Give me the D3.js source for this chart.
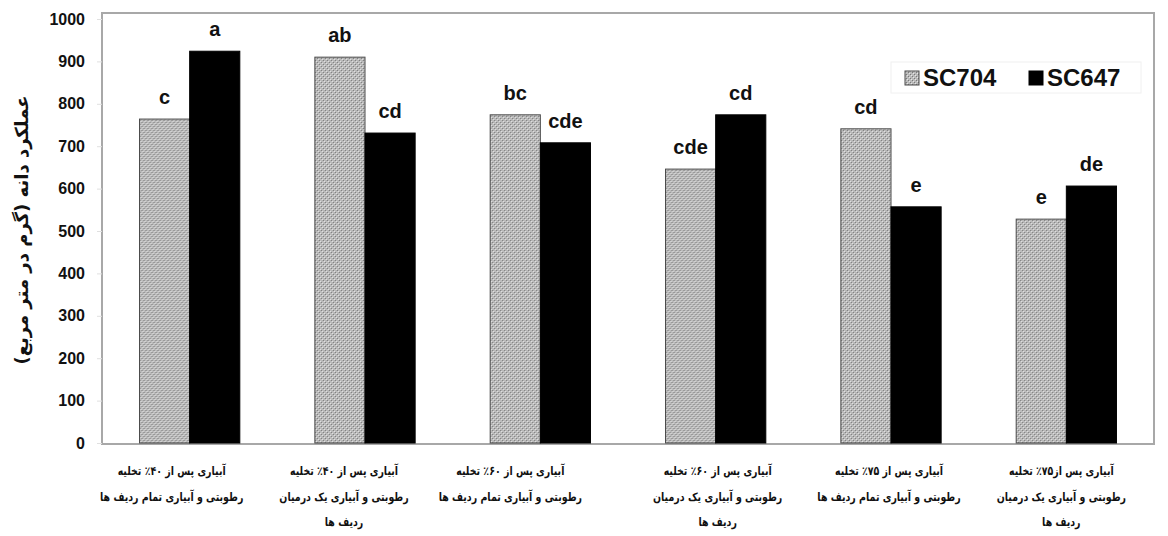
<!DOCTYPE html>
<html>
<head>
<meta charset="utf-8">
<script src="https://cdn.jsdelivr.net/npm/d3@7"></script>
<style>
  html, body { margin: 0; padding: 0; background: #fff; }
  svg { display: block; }
</style>
</head>
<body>
<svg id="chart" width="1168" height="536"></svg>
<script>
// Grain yield by irrigation treatment for two maize hybrids
const categories = [
  ["آبیاری پس از ۴۰٪ تخلیه", "رطوبتی و آبیاری تمام ردیف ها"],
  ["آبیاری پس از ۴۰٪ تخلیه", "رطوبتی و آبیاری یک درمیان", "ردیف ها"],
  ["آبیاری پس از ۶۰٪ تخلیه", "رطوبتی و آبیاری تمام ردیف ها"],
  ["آبیاری پس از ۶۰٪ تخلیه", "رطوبتی و آبیاری یک درمیان", "ردیف ها"],
  ["آبیاری پس از ۷۵٪ تخلیه", "رطوبتی و آبیاری تمام ردیف ها"],
  ["آبیاری پس از۷۵٪ تخلیه", "رطوبتی و آبیاری یک درمیان", "ردیف ها"]
];
const seriesNames = ["SC704", "SC647"];
const sc704 = [764, 910, 774, 646, 741, 528];
const sc647 = [924, 731, 708, 774, 557, 606];
const sc704Letters = ["c", "ab", "bc", "cde", "cd", "e"];
const sc647Letters = ["a", "cd", "cde", "cd", "e", "de"];
const yTicks = [0, 100, 200, 300, 400, 500, 600, 700, 800, 900, 1000];
const yTitle = "عملکرد دانه  (گرم در متر مربع)";

// horizontal nudge of each category caption
const captionShift = [-18, -21, -30, 2, -2, -5];

const svg = d3.select("#chart");
const frame = { left: 102, right: 1154, top: 13, bottom: 444 };

const x0 = d3.scaleBand()
  .domain(d3.range(categories.length))
  .range([frame.left, frame.right])
  .paddingInner(0.428)
  .paddingOuter(0.214);
const x1 = d3.scaleBand()
  .domain(seriesNames)
  .range([0, x0.bandwidth()]);
const y = d3.scaleLinear().domain([0, 1000]).range([443, 19]);

// dotted fill for SC704
const defs = svg.append("defs");
const pat = defs.append("pattern")
  .attr("id", "dots")
  .attr("patternUnits", "userSpaceOnUse")
  .attr("width", 4).attr("height", 4);
pat.append("rect").attr("width", 4).attr("height", 4).attr("fill", "#bababa");
pat.append("rect").attr("x", 0).attr("y", 0).attr("width", 1).attr("height", 1).attr("fill", "#7a7a7a");
pat.append("rect").attr("x", 2).attr("y", 2).attr("width", 1).attr("height", 1).attr("fill", "#7a7a7a");
pat.append("rect").attr("x", 1).attr("y", 1).attr("width", 1).attr("height", 1).attr("fill", "#e6e6e6");
pat.append("rect").attr("x", 3).attr("y", 3).attr("width", 1).attr("height", 1).attr("fill", "#e6e6e6");

const fills = { SC704: "url(#dots)", SC647: "#000" };

// plot frame
svg.append("rect")
  .attr("x", frame.left).attr("y", frame.top)
  .attr("width", frame.right - frame.left)
  .attr("height", frame.bottom - frame.top)
  .attr("fill", "none")
  .attr("stroke", "#a8a8a8")
  .attr("stroke-width", 2);

// y axis
const yAxis = d3.axisLeft(y).tickValues(yTicks).tickFormat(d3.format("d")).tickSize(5).tickPadding(12);
const ya = svg.append("g").attr("transform", `translate(${frame.left},0)`).call(yAxis);
ya.select(".domain").remove();
ya.selectAll(".tick line").attr("stroke", "#e0e0e0");
ya.selectAll(".tick text")
  .attr("font-family", "Liberation Sans, Arial, sans-serif")
  .attr("font-weight", "bold")
  .attr("font-size", 16)
  .attr("fill", "#111");

// bars
const rows = categories.map((c, i) => ({ i, values: [sc704[i], sc647[i]], letters: [sc704Letters[i], sc647Letters[i]] }));
const groups = svg.append("g").selectAll("g").data(rows).join("g")
  .attr("transform", d => `translate(${x0(d.i)},0)`);

groups.selectAll("rect")
  .data(d => seriesNames.map((s, k) => ({ s, v: d.values[k] })))
  .join("rect")
  .attr("x", d => x1(d.s))
  .attr("y", d => y(d.v))
  .attr("width", x1.bandwidth())
  .attr("height", d => y(0) - y(d.v))
  .attr("fill", d => fills[d.s])
  .attr("stroke", d => d.s === "SC704" ? "#4a4a4a" : "#000")
  .attr("stroke-width", 1);

groups.selectAll("text.letter")
  .data(d => seriesNames.map((s, k) => ({ s, v: d.values[k], t: d.letters[k] })))
  .join("text")
  .attr("class", "letter")
  .attr("x", d => x1(d.s) + x1.bandwidth() / 2)
  .attr("y", d => y(d.v) - 15)
  .attr("text-anchor", "middle")
  .attr("font-family", "Liberation Sans, Arial, sans-serif")
  .attr("font-weight", "bold")
  .attr("font-size", 20)
  .attr("fill", "#111")
  .text(d => d.t);

// category captions, one text element per line, slightly condensed
const capLines = rows.flatMap(d => categories[d.i].map((t, k) => ({ i: d.i, k, t })));
svg.append("g").selectAll("text").data(capLines).join("text")
  .attr("transform", d => `translate(${x0(d.i) + x0.bandwidth() / 2 + captionShift[d.i]},${475 + d.k * 25.5}) scale(0.86,1.08)`)
  .attr("text-anchor", "middle")
  .attr("direction", "rtl")
  .attr("unicode-bidi", "embed")
  .attr("font-family", "DejaVu Sans, sans-serif")
  .attr("font-weight", "bold")
  .attr("font-size", 11)
  .attr("fill", "#111")
  .text(d => d.t);

// y axis title
svg.append("text")
  .attr("transform", "translate(28,230) rotate(-90)")
  .attr("text-anchor", "middle")
  .attr("direction", "rtl")
  .attr("font-family", "DejaVu Sans, sans-serif")
  .attr("font-weight", "bold")
  .attr("font-size", 18)
  .attr("fill", "#111")
  .text(yTitle);

// legend
const lg = svg.append("g");
lg.append("rect")
  .attr("x", 891).attr("y", 62).attr("width", 250).attr("height", 31)
  .attr("fill", "#fff").attr("stroke", "#f0f0f0");
seriesNames.forEach((s, k) => {
  const lx = 905 + k * 124;
  lg.append("rect")
    .attr("x", lx).attr("y", 71).attr("width", 14).attr("height", 14)
    .attr("fill", fills[s])
    .attr("stroke", s === "SC704" ? "#4a4a4a" : "#000");
  lg.append("text")
    .attr("x", lx + 18).attr("y", 86)
    .attr("font-family", "Liberation Sans, Arial, sans-serif")
    .attr("font-weight", "bold")
    .attr("font-size", 24)
    .attr("fill", "#111")
    .text(s);
});
</script>
</body>
</html>
